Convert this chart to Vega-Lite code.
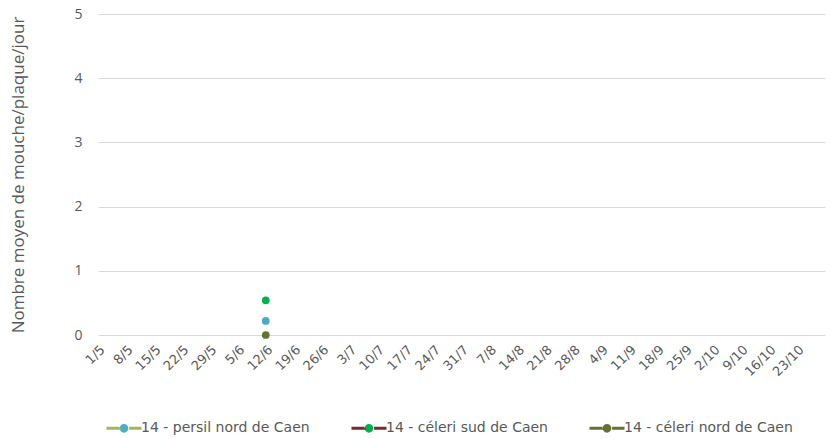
{
  "$schema": "https://vega.github.io/schema/vega-lite/v6.json",
  "width": 727,
  "height": 321,
  "autosize": {"type": "none"},
  "padding": {"left": 98, "top": 14, "right": 8, "bottom": 104},
  "background": "white",
  "data": {
    "values": [
      {"date": "12/6", "serie": "14 - persil nord de Caen", "valeur": 0.22},
      {"date": "12/6", "serie": "14 - céleri sud de Caen", "valeur": 0.54},
      {"date": "12/6", "serie": "14 - céleri nord de Caen", "valeur": 0}
    ]
  },
  "mark": {"type": "point", "filled": true, "size": 60, "strokeWidth": 0, "opacity": 1},
  "encoding": {
    "x": {
      "field": "date",
      "type": "ordinal",
      "sort": null,
      "scale": {
        "type": "point",
        "padding": 0,
        "domain": ["1/5", "8/5", "15/5", "22/5", "29/5", "5/6", "12/6", "19/6", "26/6", "3/7", "10/7", "17/7", "24/7", "31/7", "7/8", "14/8", "21/8", "28/8", "4/9", "11/9", "18/9", "25/9", "2/10", "9/10", "16/10", "23/10", "30/10"]
      },
      "axis": {
        "title": null,
        "labelAngle": -45,
        "labelExpr": "datum.label == '30/10' ? '' : datum.label",
        "labelFont": "DejaVu Sans",
        "labelFontSize": 13,
        "labelColor": "#595959",
        "labelPadding": 8,
        "domain": false,
        "ticks": false,
        "grid": false
      }
    },
    "y": {
      "field": "valeur",
      "type": "quantitative",
      "scale": {"domain": [0, 5], "nice": false},
      "axis": {
        "values": [0, 1, 2, 3, 4, 5],
        "title": "Nombre moyen de mouche/plaque/jour",
        "titleFont": "Open Sans",
        "titleFontSize": 17,
        "titleFontWeight": "normal",
        "titleColor": "#595959",
        "titlePadding": 46,
        "labelFont": "Open Sans",
        "labelFontSize": 14,
        "labelColor": "#595959",
        "labelPadding": 16,
        "domain": false,
        "ticks": false,
        "grid": true,
        "gridColor": "#d9d9d9",
        "gridWidth": 1
      }
    },
    "fill": {
      "field": "serie",
      "type": "nominal",
      "scale": {
        "domain": ["14 - persil nord de Caen", "14 - céleri sud de Caen", "14 - céleri nord de Caen"],
        "range": ["#4BACC6", "#00B050", "#5F7530"]
      },
      "legend": {
        "title": null,
        "orient": "bottom",
        "direction": "horizontal",
        "offset": 23,
        "padding": 7,
        "symbolType": "M-1,0L-0.25,0A0.25,0.25 0 1,1 0.25,0A0.25,0.25 0 1,1 -0.25,0L0.25,0L1,0",
        "symbolSize": 1225,
        "symbolStrokeWidth": 3,
        "symbolDash": [13.13, 36.24, 13.13, 200],
        "labelFont": "DejaVu Sans",
        "labelFontSize": 14,
        "labelColor": "#595959",
        "labelLimit": 400,
        "labelOffset": -2,
        "columnPadding": 35,
        "encode": {
          "symbols": {
            "update": {
              "fill": {"signal": "scale('fill', datum.value)"},
              "stroke": {"signal": "scale('stroke', datum.value)"},
              "strokeWidth": {"value": 3},
              "opacity": {"value": 1},
              "fillOpacity": {"value": 1},
              "strokeOpacity": {"value": 1}
            }
          }
        }
      }
    },
    "stroke": {
      "field": "serie",
      "type": "nominal",
      "scale": {
        "domain": ["14 - persil nord de Caen", "14 - céleri sud de Caen", "14 - céleri nord de Caen"],
        "range": ["#9BBB59", "#772C2A", "#5F7530"]
      },
      "legend": {
        "title": null,
        "orient": "bottom",
        "direction": "horizontal",
        "offset": 23,
        "padding": 7,
        "symbolType": "M-1,0L-0.25,0A0.25,0.25 0 1,1 0.25,0A0.25,0.25 0 1,1 -0.25,0L0.25,0L1,0",
        "symbolSize": 1225,
        "symbolStrokeWidth": 3,
        "symbolDash": [13.13, 36.24, 13.13, 200],
        "labelFont": "DejaVu Sans",
        "labelFontSize": 14,
        "labelColor": "#595959",
        "labelLimit": 400,
        "labelOffset": -2,
        "columnPadding": 35,
        "encode": {
          "symbols": {
            "update": {
              "fill": {"signal": "scale('fill', datum.value)"},
              "stroke": {"signal": "scale('stroke', datum.value)"},
              "strokeWidth": {"value": 3},
              "opacity": {"value": 1},
              "fillOpacity": {"value": 1},
              "strokeOpacity": {"value": 1}
            }
          }
        }
      }
    }
  },
  "config": {
    "view": {"stroke": null},
    "legend": {"layout": {"bottom": {"anchor": "start"}}}
  }
}
